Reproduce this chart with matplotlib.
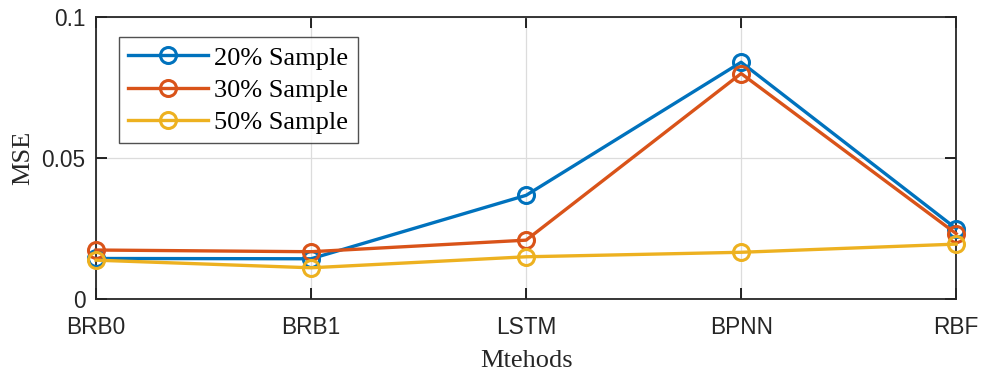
import matplotlib
matplotlib.use('agg')
import matplotlib.pyplot as plt
import numpy as np

methods = ["BRB0", "BRB1", "LSTM", "BPNN", "RBF"]
mse_20 = [0.0144, 0.0143, 0.0368, 0.0840, 0.0250]
mse_30 = [0.0174, 0.0168, 0.0209, 0.0800, 0.0232]
mse_50 = [0.0138, 0.0111, 0.0150, 0.0166, 0.0195]
labels = ["20% Sample", "30% Sample", "50% Sample"]
colors = ["#0072BD", "#D95319", "#EDB120"]

serif = ["Liberation Serif", "DejaVu Serif"]
sans = ["Liberation Sans", "DejaVu Sans"]

fig = plt.figure(figsize=(9.83, 3.72), dpi=100)
ax = fig.add_axes([0.0977, 0.196, 0.875, 0.758])

x = np.arange(len(methods))
for ys, lab, c in zip([mse_20, mse_30, mse_50], labels, colors):
    ax.plot(x, ys, '-o', color=c, lw=2.4, ms=11.5, mew=2.2, mfc='none',
            label=lab, clip_on=False, zorder=3)

ax.set_xlim(0, 4)
ax.set_ylim(0, 0.1)
ax.set_xticks(x)
ax.set_xticklabels(methods, fontfamily=sans, fontsize=16.3, color='#262626')
ax.set_yticks([0, 0.05, 0.1])
ax.set_yticklabels(["0", "0.05", "0.1"], fontfamily=sans, fontsize=16.3, color='#262626')
ax.tick_params(direction='in', length=8, width=1.2, top=True, right=True)
ax.tick_params(axis='x', pad=12)
ax.tick_params(axis='y', pad=7.5)
ax.grid(True, color='#dcdcdc', lw=0.9)
ax.set_axisbelow(True)
for s in ax.spines.values():
    s.set_color('#262626')
    s.set_linewidth(1.3)

ax.set_xlabel("Mtehods", fontfamily=serif, fontsize=19, color='#262626', labelpad=8)
ax.set_ylabel("MSE", fontfamily=serif, fontsize=19, color='#262626', labelpad=5)

leg = ax.legend(loc='upper left', bbox_to_anchor=(0.027, 0.93),
                prop={'family': serif, 'size': 19}, frameon=True, fancybox=False,
                edgecolor='#262626', handlelength=3.0, handletextpad=0.25,
                labelspacing=0.33, borderpad=0.35, borderaxespad=0.0)
leg.get_frame().set_linewidth(1.0)

fig.savefig("out.png", dpi=100)
